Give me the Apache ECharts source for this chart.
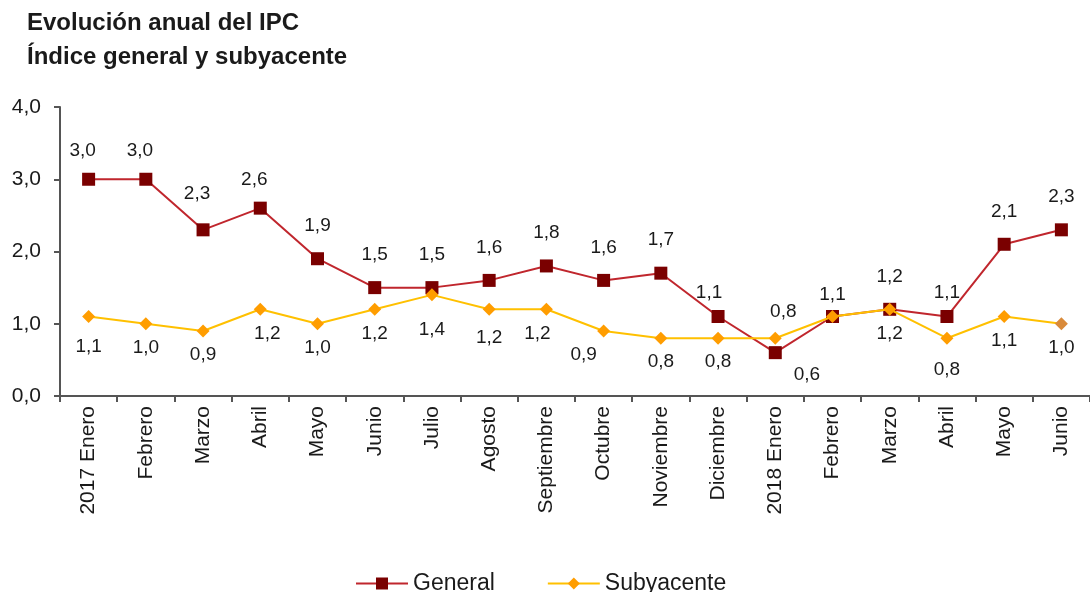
<!DOCTYPE html>
<html>
<head>
<meta charset="utf-8">
<script src="https://cdn.jsdelivr.net/npm/echarts@6/dist/echarts.min.js"></script>
<style>
  html, body { margin: 0; padding: 0; background: #fff; }
  #chart { width: 1090px; height: 592px; }
</style>
</head>
<body>
<div id="chart"></div>
<script>
var meses = ['2017 Enero', 'Febrero', 'Marzo', 'Abril', 'Mayo', 'Junio', 'Julio', 'Agosto', 'Septiembre',
    'Octubre', 'Noviembre', 'Diciembre', '2018 Enero', 'Febrero', 'Marzo', 'Abril', 'Mayo', 'Junio'];
var general = [3.0, 3.0, 2.3, 2.6, 1.9, 1.5, 1.5, 1.6, 1.8, 1.6, 1.7, 1.1, 0.6, 1.1, 1.2, 1.1, 2.1, 2.3];
var subyacente = [1.1, 1.0, 0.9, 1.2, 1.0, 1.2, 1.4, 1.2, 1.2, 0.9, 0.8, 0.8, 0.8, 1.1, 1.2, 0.8, 1.1, 1.0];

var fuente = 'Liberation Sans';

function fmt(p) {
    return p.value.toFixed(1).replace('.', ',');
}

// etiquetas: casi todas arriba (general) / abajo (subyacente), algunas movidas a mano como en el original
var datosGeneral = general.map(function (v, i) {
    var item = { value: v };
    if (i === 0 || i === 1) item.label = { distance: 12, offset: [-6, 0] };
    if (i === 2) item.label = { distance: 20, offset: [-6, 0] };
    if (i === 3) item.label = { distance: 12, offset: [-6, 0] };
    if (i === 11) item.label = { distance: 8, offset: [-9, 0] };
    if (i === 12) item.label = { position: 'right', offset: [4, 22], distance: 8 };
    if (i === 13) item.label = { distance: 6 };
    if (i === 15) item.label = { distance: 8 };
    return item;
});
var datosSub = subyacente.map(function (v, i) {
    var item = { value: v };
    if (i === 0) item.label = { distance: 14 };
    if (i === 3) item.label = { offset: [7, 0] };
    if (i === 6) item.label = { distance: 19 };
    if (i === 7) item.label = { distance: 12 };
    if (i === 8) item.label = { offset: [-9, 0] };
    if (i === 9) item.label = { offset: [-20, 0] };
    if (i === 12) item.label = { position: 'top', offset: [8, -2] };
    if (i === 13) item.label = { show: false };
    if (i === 15) item.label = { distance: 16 };
    if (i === 17) item.itemStyle = { color: '#D98A3A' };
    return item;
});

var myChart = echarts.init(document.getElementById('chart'));

var option = {
    backgroundColor: '#fff',
    animation: false,
    textStyle: { fontFamily: fuente },
    title: {
        text: 'Evolución anual del IPC\nÍndice general y subyacente',
        left: 22,
        top: 1,
        textStyle: {
            fontFamily: fuente,
            fontSize: 24,
            fontWeight: 'bold',
            color: '#1a1a1a',
            lineHeight: 34
        }
    },
    legend: {
        top: 567,
        left: 350,
        itemGap: 52,
        itemWidth: 52,
        itemHeight: 15,
        textStyle: { fontFamily: fuente, fontSize: 23, color: '#1a1a1a' },
        data: ['General', 'Subyacente']
    },
    grid: {
        left: 60,
        top: 107,
        width: 1036,
        height: 289
    },
    xAxis: {
        type: 'category',
        data: meses,
        boundaryGap: true,
        axisLine: { lineStyle: { color: '#555', width: 2 } },
        axisTick: { show: true, length: 6, lineStyle: { color: '#555', width: 2 } },
        axisLabel: {
            rotate: 90,
            fontFamily: fuente,
            fontSize: 21,
            color: '#1a1a1a',
            margin: 10,
            interval: 0
        }
    },
    yAxis: {
        type: 'value',
        min: 0,
        max: 4,
        interval: 1,
        axisLine: { show: true, lineStyle: { color: '#555', width: 2 } },
        axisTick: { show: true, length: 6, lineStyle: { color: '#555', width: 2 } },
        splitLine: { show: false },
        axisLabel: {
            fontFamily: fuente,
            fontSize: 21,
            color: '#1a1a1a',
            margin: 19,
            formatter: function (v) { return v.toFixed(1).replace('.', ','); }
        }
    },
    series: [
        {
            name: 'General',
            type: 'line',
            data: datosGeneral,
            symbol: 'rect',
            symbolSize: 13,
            z: 3,
            lineStyle: { color: '#C0262D', width: 2 },
            itemStyle: { color: '#7A0000' },
            label: {
                show: true,
                position: 'top',
                distance: 17,
                fontFamily: fuente,
                fontSize: 19,
                color: '#1a1a1a',
                formatter: fmt
            }
        },
        {
            name: 'Subyacente',
            type: 'line',
            data: datosSub,
            symbol: 'diamond',
            symbolSize: 13,
            z: 4,
            lineStyle: { color: '#FFC000', width: 2 },
            itemStyle: { color: '#FF9D00' },
            label: {
                show: true,
                position: 'bottom',
                distance: 8,
                fontFamily: fuente,
                fontSize: 19,
                color: '#1a1a1a',
                formatter: fmt
            }
        }
    ]
};

myChart.setOption(option);
</script>
</body>
</html>
